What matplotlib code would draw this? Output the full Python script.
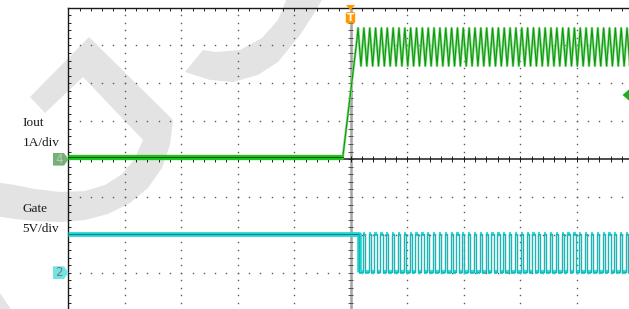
import matplotlib.pyplot as plt
from matplotlib.patches import Polygon, FancyBboxPatch
import numpy as np

W, H = 629, 309

# --- scope setup (screen = 10 x 8 div, trigger in the middle) ---
ch4_ground = 4.0      # Iout ground position (div from bottom)
ch2_ground = 1.0      # Gate ground position (div from bottom)
iout_per_div = 1.0    # 1A/div
gate_per_div = 5.0    # 5V/div

# Iout (A), time in div from trigger
iout_pre = 0.05
iout_ramp_t = [-0.14, 0.11]
iout_ramp_i = [0.05, 3.15]
iout_ripple_hi = 3.46
iout_ripple_lo = 2.46

# Gate (V)
gate_high = 5.15
gate_low = 0.15
gate_start = 0.15
sw_period = 0.1035    # div
gate_duty = 0.38      # fraction of period high

# labels
ch_labels = [("Iout", "1A/div"), ("Gate", "5V/div")]


def gate_trace():
    t = [-5.0, gate_start]
    v = [gate_high, gate_high]
    tk = gate_start
    while tk < 5.2:
        t_rise = tk + (1 - gate_duty) * sw_period
        t += [tk, t_rise, t_rise, tk + sw_period]
        v += [gate_low, gate_low, gate_high, gate_high]
        tk += sw_period
    return np.array(t), np.array(v)


def iout_trace():
    t = [-5.0, iout_ramp_t[0], iout_ramp_t[1]]
    i = [iout_pre, iout_ramp_i[0], iout_ramp_i[1]]
    tk = iout_ramp_t[1] + 0.02
    while tk < 5.2:
        t += [tk, tk + sw_period / 2]
        i += [iout_ripple_hi, iout_ripple_lo]
        tk += sw_period
    return np.array(t), np.array(i)


fig = plt.figure(figsize=(W / 100, H / 100), dpi=100)

# watermark layer (pixel coords)
wm = fig.add_axes([0, 0, 1, 1], zorder=0)
wm.set_xlim(0, W)
wm.set_ylim(H, 0)
wm.axis("off")
wm_col = "#e3e3e3"
chevron = [(30, 97), (89, 37), (173, 120), (170, 145), (162, 168), (148, 188),
           (130, 203), (108, 214), (85, 220), (60, 222), (35, 221), (15, 219),
           (-5, 216), (-5, 182), (15, 185), (35, 189), (60, 192), (85, 191),
           (105, 185), (122, 174), (134, 160), (143, 140), (83, 77), (45, 113)]
arc_top = [(185, 72), (210, 80), (233, 82), (258, 75), (278, 62), (300, 35),
           (315, 12), (323, -2), (287, -2), (278, 20), (262, 38), (240, 50),
           (215, 52), (203, 50)]
corner = [(-2, 290), (12, 311), (-2, 311)]
for pts in (chevron, arc_top, corner):
    wm.add_patch(Polygon(pts, closed=True, facecolor=wm_col, edgecolor="none"))

# main scope axes
ax = fig.add_axes([68.2 / W, (H - 310.56) / H, 565 / W, 302.96 / H], zorder=1)
ax.patch.set_alpha(0)
ax.set_xlim(-5, 5)
ax.set_ylim(0, 8)

# dotted graticule
for xv in range(-4, 5):
    if xv == 0:
        continue
    ys = np.arange(0, 8.001, 0.2)
    ax.plot(np.full_like(ys, xv), ys, ls="none", marker="s", ms=1.0, mew=0, color="#5a5a5a")
for yv in range(1, 8):
    if yv == 4:
        continue
    xs = np.arange(-5, 5.001, 0.2)
    ax.plot(xs, np.full_like(xs, yv), ls="none", marker="s", ms=1.0, mew=0, color="#5a5a5a")

# center lines with ticks
ax.axvline(0, color="#a8a8a8", lw=1.9, zorder=2)
ax.hlines(np.arange(0, 8.001, 0.2), -0.04, 0.04, color="#505050", lw=0.7, zorder=2)
ax.axhline(4, color="#1a1a1a", lw=1.1, zorder=2)
ax.vlines(np.arange(-5, 5.001, 0.2), 4 - 0.07, 4 + 0.07, color="#1a1a1a", lw=0.7, zorder=2)

# frame ticks
ax.set_xticks(np.arange(-5, 5.001, 0.2))
ax.set_yticks(np.arange(0, 8.001, 0.2))
ax.xaxis.tick_top()
ax.tick_params(direction="in", length=2.3, width=0.7, color="#222222",
               labeltop=False, labelleft=False, labelbottom=False)
for s in ("right", "bottom"):
    ax.spines[s].set_visible(False)
for s in ("left", "top"):
    ax.spines[s].set_linewidth(1.0)
    ax.spines[s].set_color("#1a1a1a")

# Iout trace (channel 4, green)
ti, ii = iout_trace()
yi = ch4_ground + ii / iout_per_div
pre = ti <= iout_ramp_t[0]
ax.plot(ti[pre], yi[pre], color="#1cc41c", lw=3.8, solid_capstyle="butt", zorder=3)
ax.plot(ti[pre], yi[pre], color="#0a5a0a", lw=0.8, zorder=4)
post = ti >= iout_ramp_t[0]
ax.plot(ti[post], yi[post], color="#8ad88a", lw=1.8, zorder=3)
ax.plot(ti[post], yi[post], color="#0a9a0a", lw=0.8, zorder=4)

# Gate trace (channel 2, cyan)
tg, vg = gate_trace()
yg = ch2_ground + vg / gate_per_div
pre = tg <= gate_start
ax.plot(tg[pre], yg[pre], color="#22d4d4", lw=3.4, solid_capstyle="butt", zorder=3)
ax.plot(tg[pre], yg[pre], color="#0a8080", lw=0.7, zorder=4)
post = tg >= gate_start
tp, yp = tg[post], yg[post]
# persistence bands on the flat levels
flat = np.isclose(yp[:-1], yp[1:]) & (tp[1:] > tp[:-1])
ax.hlines(yp[:-1][flat], tp[:-1][flat], tp[1:][flat], color="#2ee0e0", lw=3.0, zorder=3)
ax.plot(tp, yp, color="#1fb4b4", lw=1.0, zorder=4)

# overlay: markers and labels (pixel coords)
ov = fig.add_axes([0, 0, 1, 1], zorder=2)
ov.set_xlim(0, W)
ov.set_ylim(H, 0)
ov.axis("off")
ov.patch.set_alpha(0)

ov.add_patch(Polygon([(53, 153), (64, 153), (68.5, 159.3), (64, 165.6), (53, 165.6)],
                     facecolor="#72b272", edgecolor="none"))
ov.text(59, 159.6, "4", ha="center", va="center", fontsize=8.5, color="#c4c4c4")
ov.add_patch(Polygon([(53, 266.3), (64, 266.3), (68.5, 272.6), (64, 279), (53, 279)],
                     facecolor="#72e4e4", edgecolor="none"))
ov.text(59, 272.9, "2", ha="center", va="center", fontsize=8.5, color="#7a7a7a")

# trigger marker
ov.add_patch(Polygon([(346, 5), (355, 5), (350.5, 10.5)], facecolor="#ff9a00", edgecolor="none"))
ov.add_patch(FancyBboxPatch((345.8, 12), 9.4, 11.5, boxstyle="round,pad=0,rounding_size=2",
                            facecolor="#ff9a00", edgecolor="none"))
ov.text(350.5, 18.0, "T", ha="center", va="center", fontsize=7.5, color="white", fontweight="bold")

# trigger level marker
ov.add_patch(Polygon([(622.5, 95), (629.5, 89), (629.5, 101)], facecolor="#1fae1f", edgecolor="none"))

serif = ["Liberation Serif", "DejaVu Serif"]
for (name, scale), y0 in zip(ch_labels, (126, 212)):
    ov.text(22.7, y0, name, ha="left", va="baseline", fontsize=9.5, family=serif, color="#1a1a1a")
    ov.text(22.7, y0 + 19.5, scale, ha="left", va="baseline", fontsize=9.5, family=serif, color="#1a1a1a")

fig.savefig("out.png", dpi=100)
